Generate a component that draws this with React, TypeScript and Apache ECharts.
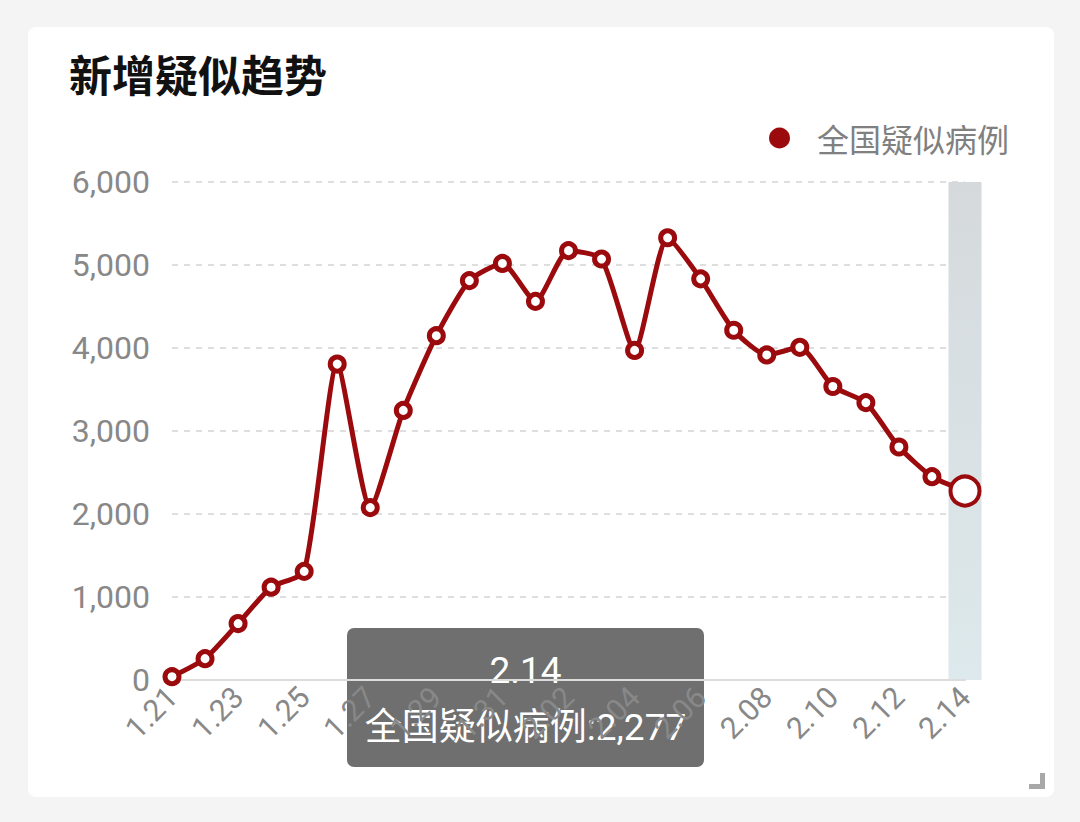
import React, { useEffect, useRef } from "react";
import * as echarts from "echarts";

const titleText = "新增疑似趋势";
const seriesName = "全国疑似病例";
const dates = [
  "1.21", "1.22", "1.23", "1.24", "1.25", "1.26", "1.27", "1.28", "1.29", "1.30", "1.31",
  "2.01", "2.02", "2.03", "2.04", "2.05", "2.06", "2.07", "2.08", "2.09", "2.10", "2.11", "2.12", "2.13", "2.14",
];
const values = [
  40, 257, 680, 1118, 1309, 3806, 2077, 3248, 4148, 4812, 5019,
  4562, 5173, 5072, 3971, 5328, 4833, 4214, 3916, 4008, 3536, 3342, 2807, 2450, 2277,
];
const yTicks = [0, 1000, 2000, 3000, 4000, 5000, 6000];

const CJK = "'Noto Sans CJK SC', sans-serif";
const MIX = "Roboto, 'Noto Sans CJK SC', sans-serif";
const RED = "#9b0b0e";

export default function App() {
  const ref = useRef<HTMLDivElement>(null);
  useEffect(() => {
    if (!ref.current) return;
    const chart = echarts.init(ref.current, undefined, { renderer: "svg" });
    const last = values.length - 1;
    const fmt = (v: number) => v.toLocaleString("en-US");
    chart.setOption({
      animation: false,
      textStyle: { fontFamily: MIX },
      title: {
        text: titleText,
        left: 64,
        top: 46,
        textStyle: { fontSize: 43, fontWeight: "bold", color: "#111", fontFamily: CJK, lineHeight: 44 },
      },
      legend: {
        data: [seriesName],
        left: 769,
        top: 121,
        padding: 0,
        icon: "circle",
        itemWidth: 21,
        itemHeight: 21,
        itemStyle: { color: RED, borderWidth: 0 },
        textStyle: { fontSize: 32, color: "#808080", fontFamily: CJK, lineHeight: 34, padding: [0, 0, 0, 22] },
      },
      grid: { left: 172, right: 115, top: 182, bottom: 142, containLabel: false },
      xAxis: {
        type: "category",
        data: dates,
        boundaryGap: false,
        axisLine: { lineStyle: { color: "#dcdcdc", width: 2 } },
        axisTick: { show: false },
        axisLabel: { interval: 1, rotate: 45, fontSize: 30, color: "#888", margin: 12, fontFamily: MIX },
        axisPointer: {
          show: true,
          type: "shadow",
          value: last,
          status: "show",
          triggerTooltip: false,
          z: 0,
          label: { show: false },
          shadowStyle: {
            color: new echarts.graphic.LinearGradient(0, 0, 0, 1, [
              { offset: 0, color: "#d5d9dc" },
              { offset: 1, color: "#dde9ec" },
            ]),
            opacity: 1,
          },
        },
      },
      yAxis: {
        type: "value",
        min: yTicks[0],
        max: yTicks[yTicks.length - 1],
        interval: 1000,
        axisLine: { show: false },
        axisTick: { show: false },
        axisLabel: { fontSize: 32, color: "#888", margin: 22, fontFamily: MIX, formatter: (v: number) => fmt(v) },
        splitLine: { lineStyle: { color: "#dedede", type: [6, 6], width: 2 } },
      },
      series: [
        {
          name: seriesName,
          type: "line",
          smooth: 0.2,
          symbol: "circle",
          symbolSize: 14,
          color: RED,
          lineStyle: { color: RED, width: 5 },
          itemStyle: { color: "#fff", borderColor: RED, borderWidth: 5 },
          data: values.map((v, i) => (i === last ? { value: v, symbolSize: 29, itemStyle: { borderWidth: 4 } } : v)),
          z: 5,
        },
      ],
      graphic: [
        {
          type: "group",
          z: 100,
          children: [
            {
              type: "rect",
              shape: { x: 347, y: 628, width: 357, height: 139, r: 7 },
              style: { fill: "rgba(50,50,50,0.7)" },
            },
            {
              type: "text",
              x: 525.5,
              y: 670,
              style: {
                text: dates[last],
                fill: "#fff",
                fontSize: 37,
                fontFamily: MIX,
                align: "center",
                verticalAlign: "middle",
              },
            },
            {
              type: "text",
              x: 525.5,
              y: 727,
              style: {
                text: `${seriesName}:${fmt(values[last])}`,
                fill: "#fff",
                fontSize: 37,
                fontFamily: MIX,
                align: "center",
                verticalAlign: "middle",
              },
            },
          ],
        },
        {
          type: "polyline",
          shape: { points: [[1029, 786.5], [1042.5, 786.5], [1042.5, 773]] },
          style: { stroke: "#a8a8a8", lineWidth: 5, fill: null },
        },
      ],
    });
    return () => chart.dispose();
  }, []);

  return (
    <div style={{ position: "fixed", left: 0, top: 0, width: 1080, height: 822, background: "#f4f4f4", overflow: "hidden" }}>
      <div
        style={{ position: "absolute", left: 28, top: 27, width: 1026, height: 770, background: "#fff", borderRadius: 8 }}
      />
      <div ref={ref} style={{ position: "absolute", left: 0, top: 0, width: 1080, height: 822 }} />
    </div>
  );
}
